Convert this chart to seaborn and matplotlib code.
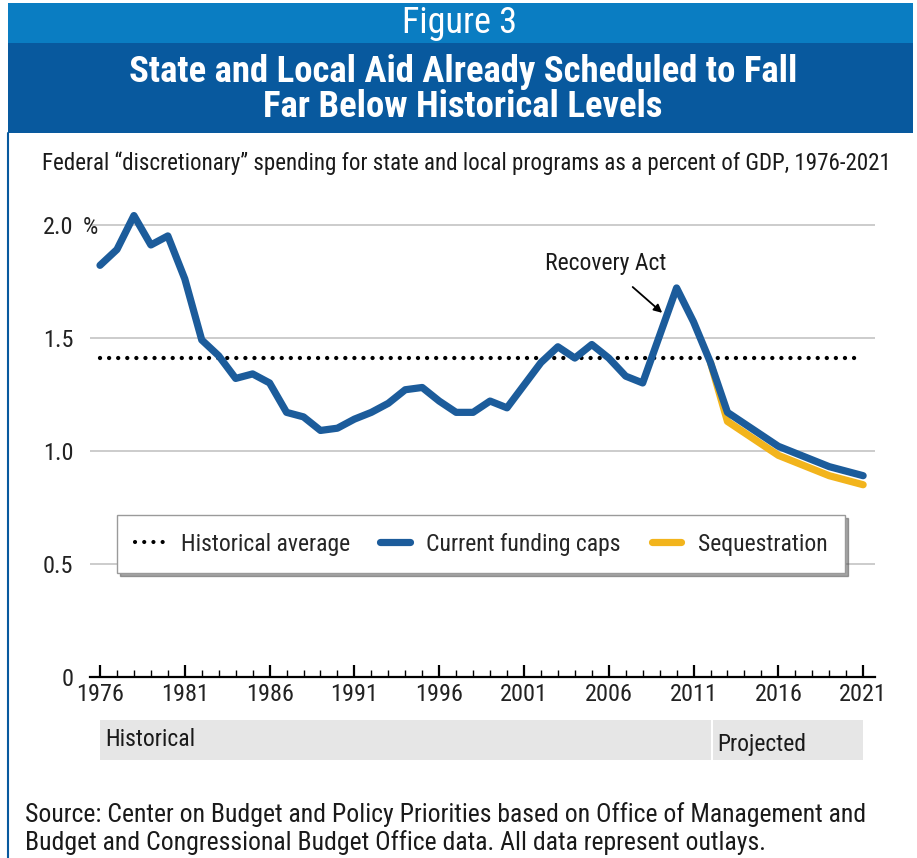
"""
Federal discretionary aid to state and local programs, % of GDP (1976-2021)
Recreated as a single static chart.
"""

import matplotlib
matplotlib.use("Agg")
import matplotlib.pyplot as plt
import matplotlib.transforms as mtransforms
from matplotlib.patches import Rectangle
from matplotlib.lines import Line2D
from matplotlib import font_manager
import pandas as pd
import seaborn as sns

# ── Data ───────────────────────────────────────────────────────────────────────
YEARS = list(range(1976, 2022))
CURRENT_CAPS = [1.82, 1.89, 2.04, 1.91, 1.95, 1.76, 1.49, 1.42, 1.32, 1.34,
                1.30, 1.17, 1.15, 1.09, 1.10, 1.14, 1.17, 1.21, 1.27, 1.28,
                1.22, 1.17, 1.17, 1.22, 1.19, 1.29, 1.39, 1.46, 1.41, 1.47,
                1.41, 1.33, 1.30, 1.51, 1.72, 1.57, 1.39, 1.17, 1.12, 1.07,
                1.02, 0.99, 0.96, 0.93, 0.91, 0.89]
SEQ_YEARS = list(range(2012, 2022))
SEQUESTRATION = [1.39, 1.13, 1.08, 1.03, 0.98, 0.95, 0.92, 0.89, 0.87, 0.85]
HIST_AVG = 1.41
PROJECTION_START = 2012

Y_TICKS = [0, 0.5, 1.0, 1.5, 2.0]
Y_LABELS = ["0", "0.5", "1.0", "1.5", "2.0"]
X_MAJOR = [1976, 1981, 1986, 1991, 1996, 2001, 2006, 2011, 2016, 2021]

BLUE = "#1c5c9b"
GOLD = "#f2b41c"
BANNER_LIGHT = "#0a7dc2"
BANNER_DARK = "#08599e"
DOTS = (0, (0.01, 2.1))

# ── Fonts ──────────────────────────────────────────────────────────────────────
sns.set_theme(style="white")
_names = {f.name for f in font_manager.fontManager.ttflist}
NARROW = next((n for n in ["Roboto Condensed", "Liberation Sans Narrow",
                           "Open Sans Condensed", "Noto Sans Condensed"]
               if n in _names), None)
if NARROW:
    COND = dict(family=NARROW)
else:
    COND = dict(family="DejaVu Sans", stretch="condensed")
plt.rcParams["font.family"] = [COND["family"], "DejaVu Sans"]

W, H = 917, 858
fig = plt.figure(figsize=(W / 100, H / 100), dpi=100)
fig.patch.set_facecolor("white")

# background layer in pixel coordinates
bg = fig.add_axes([0, 0, 1, 1], zorder=0)
bg.set_xlim(0, W)
bg.set_ylim(H, 0)
bg.axis("off")
bg.add_patch(Rectangle((8, 3), 905, 40, color=BANNER_LIGHT, lw=0))
bg.add_patch(Rectangle((8, 43), 905, 90, color=BANNER_DARK, lw=0))
bg.plot([8, 8], [133, H], color=BANNER_DARK, lw=1.5)
bg.text(459, 23, "Figure 3", color="white", fontsize=26, ha="center", va="center", **COND)
bg.text(463, 72, "State and Local Aid Already Scheduled to Fall", color="white",
        fontsize=26.5, fontweight="bold", ha="center", va="center", **COND)
bg.text(463, 107, "Far Below Historical Levels", color="white",
        fontsize=26.5, fontweight="bold", ha="center", va="center", **COND)
bg.text(466, 163, "Federal \u201cdiscretionary\u201d spending for state and local programs "
        "as a percent of GDP, 1976-2021", fontsize=16.6, ha="center", va="center",
        color="#1a1a1a", **COND)
bg.text(25, 815, "Source: Center on Budget and Policy Priorities based on Office of "
        "Management and", fontsize=18.5, ha="left", va="center", color="#1a1a1a", **COND)
bg.text(25, 843, "Budget and Congressional Budget Office data. All data represent outlays.",
        fontsize=18.5, ha="left", va="center", color="#1a1a1a", **COND)

# ── Main chart ─────────────────────────────────────────────────────────────────
ax = fig.add_axes([90 / W, (H - 677) / H, 785 / W, 475 / H], zorder=1)
ax.patch.set_alpha(0)

df_cur = pd.DataFrame({"year": YEARS, "value": CURRENT_CAPS})
df_seq = pd.DataFrame({"year": SEQ_YEARS, "value": SEQUESTRATION})

ax.plot([YEARS[0], YEARS[-1]], [HIST_AVG, HIST_AVG], color="black", lw=3.1,
        linestyle=DOTS, dash_capstyle="round", zorder=2)
sns.lineplot(data=df_seq, x="year", y="value", ax=ax, color=GOLD, lw=5.2,
             solid_capstyle="round", solid_joinstyle="round", zorder=3)
sns.lineplot(data=df_cur, x="year", y="value", ax=ax, color=BLUE, lw=5.2,
             solid_capstyle="round", solid_joinstyle="round", zorder=4)

ax.set_xlim(1975.41, 2021.7)
ax.set_ylim(0, 2.1)
ax.set_xlabel("")
ax.set_ylabel("")

for y in Y_TICKS[1:]:
    ax.axhline(y, color="#c4c4c4", lw=1.2, zorder=1)

for side in ["left", "right", "top"]:
    ax.spines[side].set_visible(False)
ax.spines["bottom"].set_color("black")
ax.spines["bottom"].set_linewidth(1.6)

ax.set_xticks(X_MAJOR)
ax.set_xticks(YEARS, minor=True)
ax.set_xticklabels([str(x) for x in X_MAJOR], fontsize=17.5, **COND)
ax.tick_params(axis="x", which="major", bottom=True, direction="in", length=9,
               width=1.6, color="black", pad=4, labelcolor="#222222")
ax.tick_params(axis="x", which="minor", bottom=True, direction="in", length=5,
               width=1.0, color="black")
ax.set_yticks(Y_TICKS)
ax.set_yticklabels(Y_LABELS, fontsize=17.5, **COND)
ax.tick_params(axis="y", left=False, length=0, pad=12, labelcolor="#222222")
ax.text(0.01, 2.0, "%", transform=mtransforms.blended_transform_factory(ax.transAxes, ax.transData),
        fontsize=17.5, ha="right", va="center_baseline", color="#222222", **COND)

# Recovery Act annotation
ax.annotate("Recovery Act", xy=(2009.15, 1.61), xytext=(2005.8, 1.83),
            ha="center", va="center", fontsize=17, color="#1a1a1a",
            arrowprops=dict(arrowstyle="-|>", color="black", lw=1.3,
                            shrinkA=10, shrinkB=0, mutation_scale=12), **COND)

# Historical / Projected bands under the axis
trans = mtransforms.blended_transform_factory(ax.transData, ax.transAxes)
ax.add_patch(Rectangle((YEARS[0], -0.175), PROJECTION_START - YEARS[0] + 0.03, 0.085,
                       transform=trans, color="#e6e6e6", lw=0, clip_on=False))
ax.add_patch(Rectangle((PROJECTION_START + 0.12, -0.175), YEARS[-1] - PROJECTION_START - 0.12,
                       0.085, transform=trans, color="#e6e6e6", lw=0, clip_on=False))
ax.text(YEARS[0] + 0.3, -0.132, "Historical", transform=trans, fontsize=17,
        ha="left", va="center", color="#1a1a1a", **COND)
ax.text(PROJECTION_START + 0.4, -0.143, "Projected", transform=trans, fontsize=17,
        ha="left", va="center", color="#1a1a1a", **COND)

# Legend
handles = [
    Line2D([], [], color="black", lw=3.0, linestyle=(0, (0.01, 2.2)), dash_capstyle="round"),
    Line2D([], [], color=BLUE, lw=5.2, solid_capstyle="round"),
    Line2D([], [], color=GOLD, lw=5.2, solid_capstyle="round"),
]
leg = ax.legend(handles, ["Historical average", "Current funding caps", "Sequestration"],
                ncol=3, loc="center", bbox_to_anchor=(0.498, 0.28), frameon=True,
                fancybox=False, shadow=True, edgecolor="#9a9a9a", framealpha=1,
                handlelength=1.25, columnspacing=1.3, handletextpad=0.7,
                borderpad=0.75, prop=dict(size=17, **COND))
leg.get_frame().set_linewidth(1.0)

fig.savefig("out.png", dpi=100, facecolor="white")
